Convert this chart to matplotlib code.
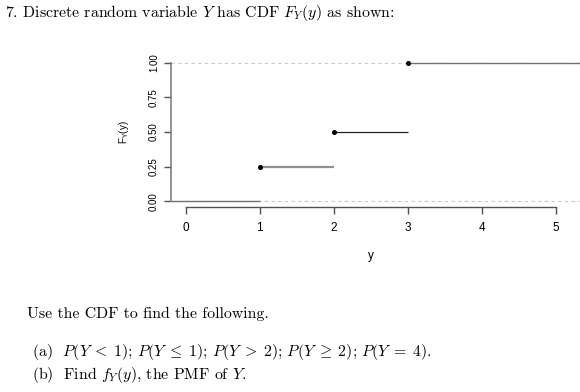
import matplotlib
matplotlib.use("Agg")
import matplotlib.pyplot as plt

# step points of the CDF
jumps = [1, 2, 3]
levels = [0.0, 0.25, 0.5, 1.0]
x_ticks = [0, 1, 2, 3, 4, 5]
y_ticks = [0.0, 0.25, 0.5, 0.75, 1.0]
y_tick_labels = ["0.00", "0.25", "0.50", "0.75", "1.00"]

plt.rcParams["mathtext.fontset"] = "cm"
plt.rcParams["axes.formatter.use_mathtext"] = True

W, H = 580, 392
fig = plt.figure(figsize=(W / 100, H / 100), dpi=100)


def px(x, y):
    return x / W, 1 - y / H


narrow = ["Liberation Sans Narrow", "Liberation Sans"]
sans = ["Liberation Sans"]

# plot box in pixels
left, right, top, bottom = 170.7, 580, 57.2, 207
ax = fig.add_axes([left / W, 1 - bottom / H, (right - left) / W, (bottom - top) / H])
x_lo, x_hi = -0.2, -0.2 + (right - left) / 74.0
ax.set_xlim(x_lo, x_hi)
ax.set_ylim(-0.04, 1.04)

# dashed reference lines at 0 and 1
for lv in (0.0, 1.0):
    ax.axhline(lv, color="#c8c8c8", lw=0.8, ls=(0, (3, 3)), zorder=1)

# horizontal steps
starts = [x_lo] + jumps
ends = jumps + [x_hi]
seg_colors = ["#707070", "#909090", "#202020", "#707070"]
seg_widths = [1.0, 1.6, 0.9, 1.0]
for s, e, lv, c, w in zip(starts, ends, levels, seg_colors, seg_widths):
    ax.plot([s, e], [lv, lv], color=c, lw=w, solid_capstyle="butt", zorder=2)
ax.plot(jumps, levels[1:], "o", color="black", ms=2.6, zorder=3)

for side in ("top", "right"):
    ax.spines[side].set_visible(False)
ax.spines["left"].set_bounds(0, 1)
ax.spines["bottom"].set_bounds(0, 5)
ax.spines["left"].set_color("#808080")
ax.spines["bottom"].set_color("#505050")
ax.spines["left"].set_linewidth(1.2)
ax.spines["bottom"].set_linewidth(1.0)

ax.set_xticks(x_ticks)
ax.set_xticklabels([str(t) for t in x_ticks], fontfamily=narrow, fontsize=8.5)
ax.set_yticks(y_ticks)
ax.set_yticklabels(y_tick_labels, fontfamily=sans, fontsize=7,
                   rotation=90, va="center")
ax.tick_params(axis="x", length=5, width=1.0, color="#505050", pad=6)
ax.tick_params(axis="y", length=5, width=1.0, color="#505050", pad=3.5)

fig.text(*px(370.7, 256), "y", fontfamily=narrow, fontsize=8.5,
         ha="center", va="center")
fig.text(*px(124, 131.7), r"$\mathregular{F_Y(y)}$", fontfamily=sans,
         fontsize=7, rotation=90, ha="center", va="center")

# document text around the figure
cm = "cmr10"
fs = 11.4
fig.text(*px(5, 13), r"7. Discrete random variable $Y$ has CDF $F_Y(y)$ as shown:",
         fontfamily=cm, fontsize=fs, ha="left", va="center")
fig.text(*px(27, 314), "Use the CDF to find the following.",
         fontfamily=cm, fontsize=fs, ha="left", va="center")
fig.text(*px(32, 352),
         r"(a)  $P(Y\;<\;1)$; $P(Y\;\leq\;1)$; $P(Y\;>\;2)$; $P(Y\;\geq\;2)$; $P(Y\;=\;4)$.",
         fontfamily=cm, fontsize=fs, ha="left", va="center")
fig.text(*px(32, 375), r"(b)  Find $f_Y(y)$, the PMF of $Y$.",
         fontfamily=cm, fontsize=fs, ha="left", va="center")

fig.savefig("out.png", dpi=100)
